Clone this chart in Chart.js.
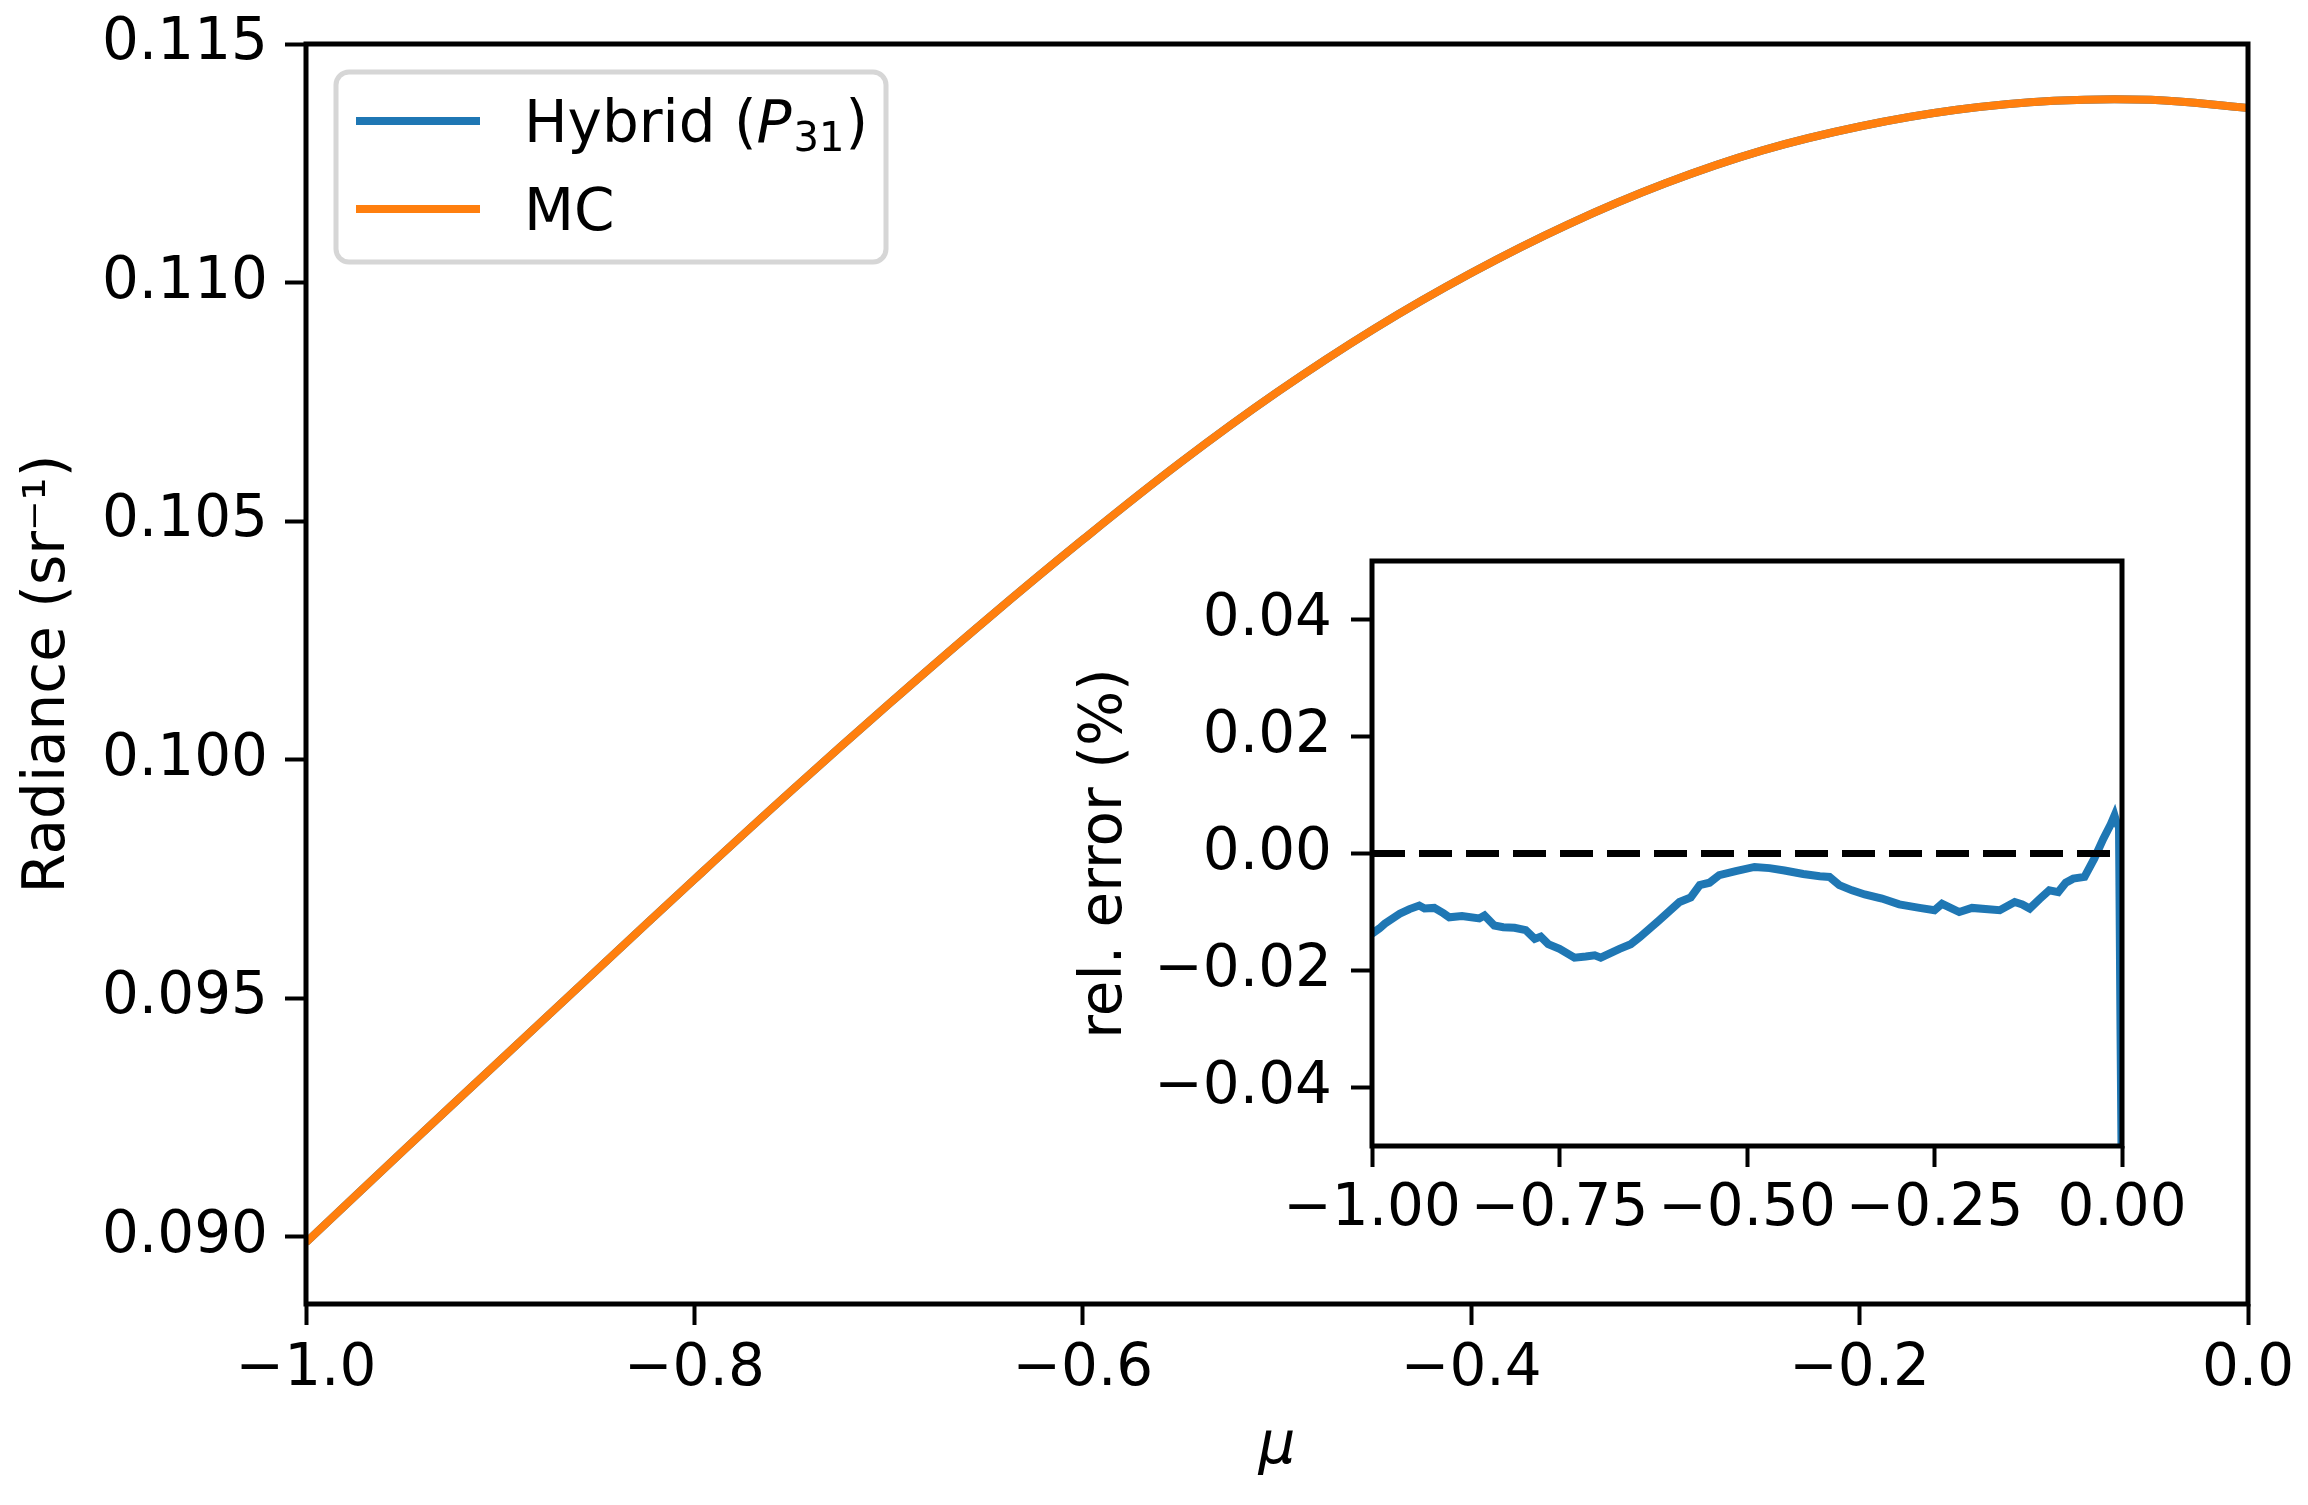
<!DOCTYPE html>
<html>
<head>
<meta charset="utf-8">
<script src="https://cdn.jsdelivr.net/npm/chart.js@4.4.0/dist/chart.umd.min.js"></script>
<style>
  html, body { margin: 0; padding: 0; background: #fff; }
  #wrap { position: relative; width: 2308px; height: 1505px; }
  #main { position: absolute; left: 0; top: 0; }
  #inset { position: absolute; left: 1000px; top: 500px; }
</style>
</head>
<body>
<div id="wrap">
  <canvas id="main" width="2308" height="1505" style="width:2308px;height:1505px"></canvas>
  <canvas id="inset" width="1200" height="800" style="width:1200px;height:800px"></canvas>
</div>
<script>
// main panel: radiance vs mu
const muMain = [-1.00, -0.95, -0.90, -0.85, -0.80, -0.75, -0.70, -0.65, -0.60, -0.55,
                -0.50, -0.45, -0.40, -0.35, -0.30, -0.25, -0.20, -0.15, -0.10, -0.05, 0.00];
const mcRadiance = [0.08988, 0.09180, 0.09370, 0.09560, 0.09749, 0.09935, 0.10116, 0.10292,
                    0.10461, 0.10622, 0.10770, 0.10903, 0.11020, 0.11122, 0.11208, 0.11277,
                    0.11327, 0.11362, 0.11381, 0.11383, 0.11366];
const hybridRadiance = [0.08988, 0.09180, 0.09370, 0.09560, 0.09749, 0.09935, 0.10116, 0.10292,
                        0.10461, 0.10622, 0.10770, 0.10903, 0.11020, 0.11122, 0.11208, 0.11277,
                        0.11327, 0.11362, 0.11381, 0.11383, 0.11366];
const mainXTicks = [-1.0, -0.8, -0.6, -0.4, -0.2, 0.0];
const mainYTicks = [0.090, 0.095, 0.100, 0.105, 0.110, 0.115];

// inset: relative error (%)
const muInset = [-1.000, -0.990, -0.983, -0.963, -0.950, -0.937, -0.930, -0.917, -0.905, -0.897,
                 -0.880, -0.857, -0.850, -0.837, -0.825, -0.810, -0.795, -0.783, -0.775, -0.765,
                 -0.750, -0.730, -0.715, -0.703, -0.695, -0.670, -0.655, -0.643, -0.617, -0.590,
                 -0.575, -0.563, -0.550, -0.537, -0.515, -0.490, -0.470, -0.450, -0.425, -0.403,
                 -0.390, -0.377, -0.360, -0.343, -0.320, -0.297, -0.270, -0.250, -0.240, -0.217,
                 -0.200, -0.163, -0.143, -0.133, -0.123, -0.110, -0.097, -0.085, -0.075, -0.065,
                 -0.050, -0.037, -0.025, -0.015, -0.010, -0.007, -0.004, -0.002, 0.000];
const relError = [-0.0137, -0.0128, -0.0120, -0.0103, -0.0095, -0.0089, -0.0094, -0.0093, -0.0102, -0.0109,
                  -0.0107, -0.0111, -0.0106, -0.0123, -0.0126, -0.0127, -0.0131, -0.0146, -0.0142, -0.0155,
                  -0.0163, -0.0178, -0.0176, -0.0174, -0.0178, -0.0163, -0.0155, -0.0143, -0.0114, -0.0083,
                  -0.0075, -0.0054, -0.0050, -0.0037, -0.0030, -0.0023, -0.0025, -0.0029, -0.0035, -0.0039,
                  -0.0040, -0.0054, -0.0063, -0.0070, -0.0077, -0.0087, -0.0093, -0.0097, -0.0086, -0.0100,
                  -0.0093, -0.0097, -0.0083, -0.0087, -0.0094, -0.0078, -0.0063, -0.0066, -0.0050, -0.0043,
                  -0.0040, -0.0009, 0.0025, 0.0050, 0.0065, 0.0052, 0.0045, -0.0300, -0.0600];
const insetXTicks = [-1.00, -0.75, -0.50, -0.25, 0.00];
const insetYTicks = [-0.04, -0.02, 0.00, 0.02, 0.04];

Chart.defaults.font.family = 'DejaVu Sans';
Chart.defaults.font.size = 58;
Chart.defaults.color = '#000';

function fmt(v, digits) {
  let s = Math.abs(v).toFixed(digits);
  if (v < 0 && Math.abs(v) > 1e-9) s = '\u2212' + s;
  return s;
}

function pts(xs, ys) {
  return xs.map((x, i) => ({ x: x, y: ys[i] }));
}

// keep the plot box where I put it, labels may hang over the edges
function noPad(s) {
  s.paddingTop = 0; s.paddingBottom = 0;
  s.paddingLeft = 0; s.paddingRight = 0;
}

const frame = {
  id: 'frame',
  beforeDraw(chart) {
    const a = chart.chartArea, ctx = chart.ctx;
    ctx.save();
    ctx.fillStyle = '#fff';
    ctx.fillRect(a.left, a.top, a.right - a.left, a.bottom - a.top);
    ctx.restore();
  },
  afterDraw(chart) {
    const a = chart.chartArea, ctx = chart.ctx;
    ctx.save();
    ctx.strokeStyle = '#000';
    ctx.lineWidth = 5;
    ctx.strokeRect(a.left, a.top, a.right - a.left, a.bottom - a.top);
    ctx.restore();
  }
};

function roundRect(ctx, x, y, w, h, r) {
  ctx.beginPath();
  ctx.moveTo(x + r, y);
  ctx.lineTo(x + w - r, y);
  ctx.arcTo(x + w, y, x + w, y + r, r);
  ctx.lineTo(x + w, y + h - r);
  ctx.arcTo(x + w, y + h, x + w - r, y + h, r);
  ctx.lineTo(x + r, y + h);
  ctx.arcTo(x, y + h, x, y + h - r, r);
  ctx.lineTo(x, y + r);
  ctx.arcTo(x, y, x + r, y, r);
  ctx.closePath();
}

const legendBox = {
  id: 'legendBox',
  afterDraw(chart) {
    const ctx = chart.ctx;
    ctx.save();
    roundRect(ctx, 336, 72, 550, 190, 13);
    ctx.fillStyle = 'rgba(255,255,255,0.8)';
    ctx.fill();
    ctx.strokeStyle = '#d6d6d6';
    ctx.lineWidth = 5;
    ctx.stroke();

    ctx.lineWidth = 8;
    ctx.strokeStyle = '#1f77b4';
    ctx.beginPath(); ctx.moveTo(356, 121); ctx.lineTo(480, 121); ctx.stroke();
    ctx.strokeStyle = '#ff7f0e';
    ctx.beginPath(); ctx.moveTo(356, 209); ctx.lineTo(480, 209); ctx.stroke();

    ctx.fillStyle = '#000';
    ctx.textBaseline = 'alphabetic';
    ctx.textAlign = 'left';
    let x = 524;
    const base1 = 142;
    ctx.font = '58px "DejaVu Sans"';
    ctx.fillText('Hybrid (', x, base1);
    x += ctx.measureText('Hybrid (').width;
    ctx.font = 'italic 58px "DejaVu Sans"';
    ctx.fillText('P', x, base1);
    x += ctx.measureText('P').width + 2;
    ctx.font = '40px "DejaVu Sans"';
    ctx.fillText('31', x, base1 + 9);
    x += ctx.measureText('31').width + 1;
    ctx.font = '58px "DejaVu Sans"';
    ctx.fillText(')', x, base1);
    ctx.fillText('MC', 524, 230);
    ctx.restore();
  }
};

new Chart(document.getElementById('main'), {
  type: 'line',
  data: {
    datasets: [
      { label: 'MC', data: pts(muMain, mcRadiance), borderColor: '#ff7f0e', borderWidth: 8,
        pointRadius: 0, tension: 0.4, order: 0 },
      { label: 'Hybrid (P31)', data: pts(muMain, hybridRadiance), borderColor: '#1f77b4', borderWidth: 8,
        pointRadius: 0, tension: 0.4, order: 1 }
    ]
  },
  options: {
    responsive: false,
    devicePixelRatio: 1,
    animation: false,
    layout: { padding: { left: 0, top: 44, right: 60, bottom: 0 } },
    plugins: { legend: { display: false }, tooltip: { enabled: false } },
    scales: {
      x: {
        type: 'linear', min: -1, max: 0,
        afterBuildTicks: s => { s.ticks = mainXTicks.map(v => ({ value: v })); },
        afterFit: s => { s.height = 201; noPad(s); },
        ticks: { callback: v => fmt(v, 1), padding: 10, autoSkip: false, maxRotation: 0, minRotation: 0 },
        grid: { drawOnChartArea: false, tickLength: 21, tickWidth: 4, tickColor: '#000' },
        border: { display: false },
        title: { display: true, text: 'μ', font: { style: 'italic', size: 58 }, padding: { top: 0, bottom: 22 } }
      },
      y: {
        type: 'linear', min: 0.08859, max: 0.115,
        afterBuildTicks: s => { s.ticks = mainYTicks.map(v => ({ value: v })); },
        afterFit: s => { s.width = 306; noPad(s); },
        ticks: { callback: v => fmt(v, 3), padding: 17, autoSkip: false },
        grid: { drawOnChartArea: false, tickLength: 21, tickWidth: 4, tickColor: '#000' },
        border: { display: false },
        title: { display: true, text: 'Radiance (sr\u207B\u00B9)', padding: { top: 14, bottom: 0 } }
      }
    }
  },
  plugins: [frame, legendBox]
});

new Chart(document.getElementById('inset'), {
  type: 'line',
  data: {
    datasets: [
      { label: 'zero', data: pts([-1, 0], [0, 0]), borderColor: '#000', borderWidth: 7,
        borderDash: [33, 14], pointRadius: 0, order: 0 },
      { label: 'rel. error', data: pts(muInset, relError), borderColor: '#1f77b4', borderWidth: 8,
        pointRadius: 0, tension: 0, order: 1 }
    ]
  },
  options: {
    responsive: false,
    devicePixelRatio: 1,
    animation: false,
    layout: { padding: { left: 0, top: 61, right: 78, bottom: 0 } },
    plugins: { legend: { display: false }, tooltip: { enabled: false } },
    scales: {
      x: {
        type: 'linear', min: -1, max: 0,
        afterBuildTicks: s => { s.ticks = insetXTicks.map(v => ({ value: v })); },
        afterFit: s => { s.height = 154; noPad(s); },
        ticks: { callback: v => fmt(v, 2), padding: 8, autoSkip: false, maxRotation: 0, minRotation: 0 },
        grid: { drawOnChartArea: false, tickLength: 21, tickWidth: 4, tickColor: '#000' },
        border: { display: false }
      },
      y: {
        type: 'linear', min: -0.05, max: 0.05,
        afterBuildTicks: s => { s.ticks = insetYTicks.map(v => ({ value: v })); },
        afterFit: s => { s.width = 372; noPad(s); },
        ticks: { callback: v => fmt(v, 2), padding: 19, autoSkip: false },
        grid: { drawOnChartArea: false, tickLength: 21, tickWidth: 4, tickColor: '#000' },
        border: { display: false },
        title: { display: true, text: 'rel. error (%)', padding: { top: 71, bottom: 0 } }
      }
    }
  },
  plugins: [frame]
});
</script>
</body>
</html>
